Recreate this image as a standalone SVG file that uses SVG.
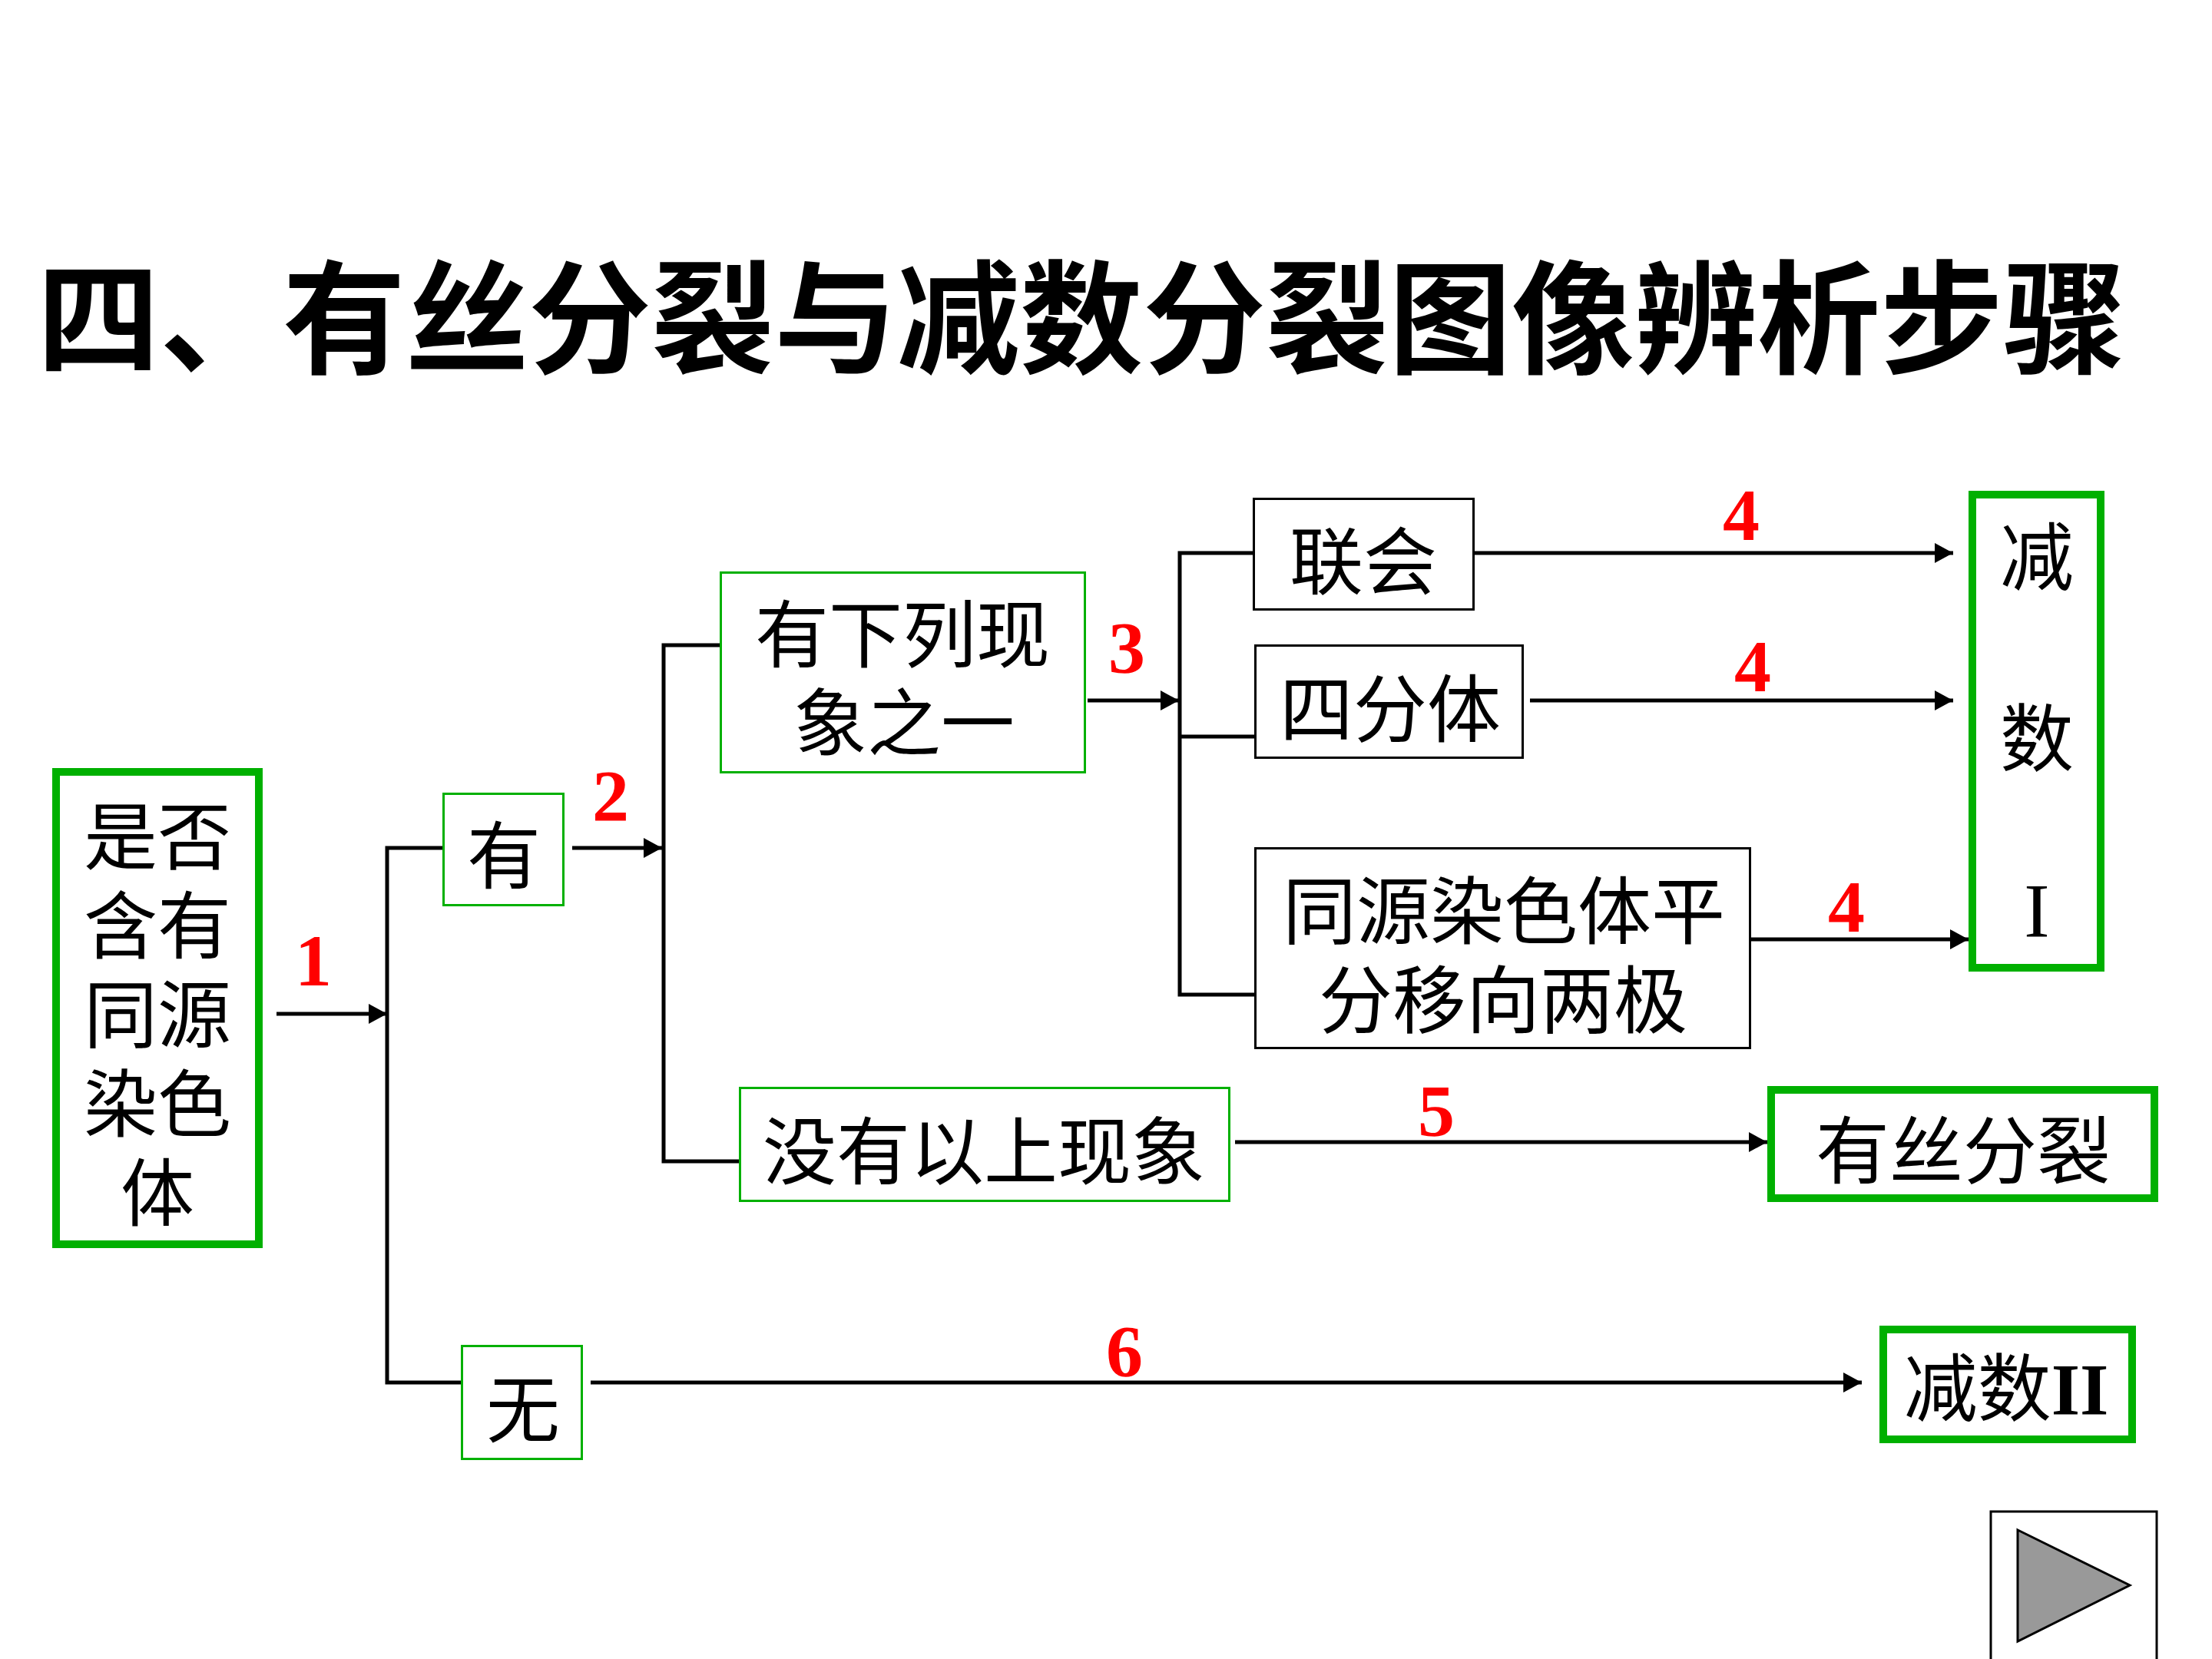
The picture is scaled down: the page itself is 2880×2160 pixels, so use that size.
<svg xmlns="http://www.w3.org/2000/svg" width="2880" height="2160" viewBox="0 0 2880 2160">
<defs>
<style>
.cjk{font-family:"Noto Sans CJK SC","Noto Sans",sans-serif;font-size:96px;fill:#000}
.title{font-family:"Noto Sans CJK SC","Noto Sans",sans-serif;font-size:160px;font-weight:700;fill:#000}
.num{font-family:"Liberation Serif","Noto Sans CJK SC",serif;font-size:96px;font-weight:700;fill:#ff0000}
.roman{font-family:"Liberation Serif",serif;fill:#000}
.gthick{fill:#fff;stroke:#00b000;stroke-width:10}
.gthin{fill:#fff;stroke:#00b000;stroke-width:3}
.bthin{fill:#fff;stroke:#000;stroke-width:3}
.line{fill:none;stroke:#000;stroke-width:5}
.arrow{fill:none;stroke:#000;stroke-width:5;marker-end:url(#ah)}
</style>
<marker id="ah" markerUnits="userSpaceOnUse" markerWidth="26" markerHeight="28" refX="24" refY="13" orient="auto">
<path d="M0,0 L24,13 L0,26 z" fill="#000"/>
</marker>
</defs>
<rect width="2880" height="2160" fill="#fff"/>
<text class="title" x="1408" y="474" text-anchor="middle">四、有丝分裂与减数分裂图像辨析步骤</text>

<g id="connectors">
<path class="arrow" d="M360,1320 H504"/>
<path class="line" d="M576,1104 H504 V1800 H600"/>
<path class="arrow" d="M745,1104 H862"/>
<path class="line" d="M937,840 H864 V1512 H962"/>
<path class="arrow" d="M1416,912 H1535"/>
<path class="line" d="M1631,720 H1536 V1295 H1633"/>
<path class="line" d="M1536,959 H1633"/>
<path class="arrow" d="M1920,720 H2543"/>
<path class="arrow" d="M1992,912 H2543"/>
<path class="arrow" d="M2280,1223 H2563"/>
<path class="arrow" d="M1608,1487 H2301"/>
<path class="arrow" d="M769,1800 H2424"/>
<text class="num" x="408" y="1283" text-anchor="middle">1</text>
<text class="num" x="795" y="1069" text-anchor="middle">2</text>
<text class="num" x="1467" y="876" text-anchor="middle">3</text>
<text class="num" x="2267" y="703" text-anchor="middle">4</text>
<text class="num" x="2282" y="900" text-anchor="middle">4</text>
<text class="num" x="2404" y="1213" text-anchor="middle">4</text>
<text class="num" x="1870" y="1479" text-anchor="middle">5</text>
<text class="num" x="1464" y="1792" text-anchor="middle">6</text>
</g>

<g id="node-homolog">
<rect class="gthick" x="73" y="1005" width="264" height="615"/>
<text class="cjk" text-anchor="middle"><tspan x="205" y="1124">是否</tspan><tspan x="205" y="1240">含有</tspan><tspan x="205" y="1356">同源</tspan><tspan x="205" y="1472">染色</tspan><tspan x="205" y="1588">体</tspan></text>
</g>

<g id="node-you">
<rect class="gthin" x="577.5" y="1033.5" width="156" height="145"/>
<text class="cjk" x="656" y="1149" text-anchor="middle">有</text>
</g>

<g id="node-wu">
<rect class="gthin" x="601.5" y="1752.5" width="156" height="147"/>
<text class="cjk" x="681" y="1870" text-anchor="middle">无</text>
</g>

<g id="node-phenomena">
<rect class="gthin" x="938.5" y="745.5" width="474" height="260"/>
<text class="cjk" text-anchor="middle"><tspan x="1175" y="861">有下列现</tspan><tspan x="1177" y="976">象之一</tspan></text>
</g>

<g id="node-none">
<rect class="gthin" x="963.5" y="1416.5" width="637" height="147"/>
<text class="cjk" x="1281" y="1534" text-anchor="middle">没有以上现象</text>
</g>

<g id="node-synapsis">
<rect class="bthin" x="1632.5" y="649.5" width="286" height="144"/>
<text class="cjk" x="1775" y="766" text-anchor="middle">联会</text>
</g>

<g id="node-tetrad">
<rect class="bthin" x="1634.5" y="840.5" width="348" height="146"/>
<text class="cjk" x="1810" y="958" text-anchor="middle">四分体</text>
</g>

<g id="node-separation">
<rect class="bthin" x="1634.5" y="1104.5" width="644" height="260"/>
<text class="cjk" text-anchor="middle"><tspan x="1958" y="1221">同源染色体平</tspan><tspan x="1957" y="1337">分移向两极</tspan></text>
</g>

<g id="node-meiosis1">
<rect class="gthick" x="2568" y="644" width="167" height="616"/>
<text text-anchor="middle"><tspan class="cjk" x="2652" y="760">减</tspan><tspan class="cjk" x="2652" y="996">数</tspan><tspan class="roman" x="2652" y="1219" font-size="100">I</tspan></text>
</g>

<g id="node-mitosis">
<rect class="gthick" x="2306" y="1419" width="499" height="141"/>
<text class="cjk" x="2556" y="1533" text-anchor="middle">有丝分裂</text>
</g>

<g id="node-meiosis2">
<rect class="gthick" x="2452" y="1731" width="324" height="143"/>
<text x="2612" y="1842" text-anchor="middle"><tspan class="cjk">减数</tspan><tspan class="roman" font-size="96" font-weight="700">II</tspan></text>
</g>

<g id="play-button">
<rect x="2592" y="1968" width="216" height="200" fill="#fff" stroke="#000" stroke-width="3"/>
<polygon points="2627,1992 2773,2064 2627,2137" fill="#999" stroke="#000" stroke-width="3"/>
</g>
</svg>
